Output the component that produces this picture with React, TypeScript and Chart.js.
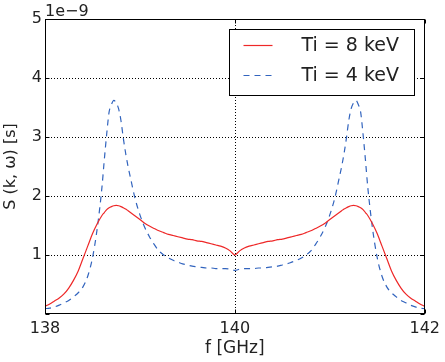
import React, { useEffect, useRef } from "react";
import { Chart, registerables } from "chart.js";

Chart.register(...registerables);

const freqGHz = [
  138.0, 138.05, 138.1, 138.15, 138.2, 138.25, 138.3, 138.35, 138.4, 138.45, 138.5, 138.55, 138.6,
  138.625, 138.65, 138.675, 138.7, 138.725, 138.75, 138.775, 138.8, 138.825, 138.85, 138.875,
  138.9, 138.95, 139.0, 139.05, 139.1, 139.15, 139.2, 139.25, 139.3, 139.35, 139.4, 139.45,
  139.5, 139.55, 139.6, 139.65, 139.7, 139.75, 139.8, 139.85, 139.9, 139.95, 140.0,
  140.05, 140.1, 140.15, 140.2, 140.25, 140.3, 140.35, 140.4, 140.45, 140.5, 140.55,
  140.6, 140.65, 140.7, 140.75, 140.8, 140.85, 140.9, 140.95, 141.0, 141.05, 141.1,
  141.125, 141.15, 141.175, 141.2, 141.225, 141.25, 141.275, 141.3, 141.325, 141.35, 141.375,
  141.4, 141.45, 141.5, 141.55, 141.6, 141.65, 141.7, 141.75, 141.8, 141.85, 141.9, 141.95, 142.0,
];

// S(k, ω) in units of 1e-9 s
const ti8keV = [
  0.13, 0.17, 0.22, 0.27, 0.34, 0.44, 0.57, 0.73, 0.94, 1.15, 1.36, 1.53, 1.67,
  1.72, 1.77, 1.8, 1.82, 1.835, 1.84, 1.835, 1.82, 1.8, 1.78, 1.75,
  1.72, 1.66, 1.6, 1.54, 1.49, 1.45, 1.41, 1.38, 1.35, 1.33, 1.31, 1.29,
  1.27, 1.26, 1.24, 1.23, 1.21, 1.19, 1.17, 1.15, 1.12, 1.07, 1.0,
  1.07, 1.12, 1.15, 1.17, 1.19, 1.21, 1.23, 1.24, 1.26, 1.27, 1.29,
  1.31, 1.33, 1.35, 1.38, 1.41, 1.45, 1.49, 1.54, 1.6, 1.66, 1.72,
  1.75, 1.78, 1.8, 1.82, 1.835, 1.84, 1.835, 1.82, 1.8, 1.77, 1.72,
  1.67, 1.53, 1.36, 1.15, 0.94, 0.73, 0.57, 0.44, 0.34, 0.27, 0.22, 0.17, 0.13,
];

const ti4keV = [
  0.09, 0.1, 0.12, 0.15, 0.19, 0.23, 0.29, 0.36, 0.46, 0.64, 0.95, 1.45, 2.15,
  2.62, 3.05, 3.42, 3.55, 3.62, 3.58, 3.48, 3.28, 2.98, 2.72, 2.5,
  2.31, 1.95, 1.68, 1.47, 1.31, 1.18, 1.07, 1.0, 0.95, 0.91, 0.88, 0.85,
  0.83, 0.81, 0.8, 0.79, 0.78, 0.78, 0.77, 0.77, 0.77, 0.76, 0.74,
  0.76, 0.77, 0.77, 0.77, 0.78, 0.78, 0.79, 0.8, 0.81, 0.83, 0.85,
  0.88, 0.91, 0.95, 1.0, 1.07, 1.18, 1.31, 1.47, 1.68, 1.95, 2.31,
  2.5, 2.72, 2.98, 3.28, 3.48, 3.58, 3.62, 3.55, 3.42, 3.05, 2.62,
  2.15, 1.45, 0.95, 0.64, 0.46, 0.36, 0.29, 0.23, 0.19, 0.15, 0.12, 0.1, 0.09,
];

const seriesLabels = ["Ti = 8 keV", "Ti = 4 keV"];
const xTicks = [138, 140, 142];
const yTicks = [0, 1, 2, 3, 4, 5];
const xGridAt = [140];
const yGridAt = [1, 2, 3, 4];
const offsetText = "1e\u22129";

const RED = "rgb(238, 40, 40)";
const BLUE = "rgb(50, 100, 190)";
const FONT = "'DejaVu Sans', sans-serif";

const framePlugin = {
  id: "mplFrame",
  beforeDatasetsDraw(chart: any) {
    const { ctx, chartArea: a, scales } = chart;
    const x = scales.x;
    const y = scales.y;
    ctx.save();
    ctx.strokeStyle = "#000";
    ctx.lineWidth = 1;
    ctx.setLineDash([1, 2]);
    for (const v of xGridAt) {
      const px = Math.round(x.getPixelForValue(v)) + 0.5;
      ctx.beginPath();
      ctx.moveTo(px, a.top);
      ctx.lineTo(px, a.bottom);
      ctx.stroke();
    }
    for (const v of yGridAt) {
      const py = Math.round(y.getPixelForValue(v)) + 0.5;
      ctx.beginPath();
      ctx.moveTo(a.left, py);
      ctx.lineTo(a.right, py);
      ctx.stroke();
    }
    ctx.restore();
  },
  afterDatasetsDraw(chart: any) {
    const { ctx, chartArea: a, scales } = chart;
    const x = scales.x;
    const y = scales.y;
    const L = Math.round(a.left) + 0.5;
    const R = Math.round(a.right) - 0.5;
    const T = Math.round(a.top) + 0.5;
    const B = Math.round(a.bottom) - 0.5;
    ctx.save();
    ctx.setLineDash([]);
    ctx.strokeStyle = "#000";
    ctx.lineWidth = 1;
    ctx.strokeRect(L, T, R - L, B - T);
    const tl = 4;
    ctx.beginPath();
    for (const v of xTicks) {
      const px = Math.round(x.getPixelForValue(v)) + 0.5;
      ctx.moveTo(px, B);
      ctx.lineTo(px, B - tl);
      ctx.moveTo(px, T);
      ctx.lineTo(px, T + tl);
    }
    for (const v of yTicks) {
      const py = Math.round(y.getPixelForValue(v)) + 0.5;
      ctx.moveTo(L, py);
      ctx.lineTo(L + tl, py);
      ctx.moveTo(R, py);
      ctx.lineTo(R - tl, py);
    }
    ctx.stroke();

    // offset text
    ctx.fillStyle = "#222";
    ctx.font = `16px ${FONT}`;
    ctx.textAlign = "left";
    ctx.textBaseline = "alphabetic";
    ctx.fillText(offsetText, a.left, a.top - 3);

    // legend
    const lw = 185;
    const lh = 66;
    const lx = Math.round(a.right - 196) + 0.5;
    const ly = Math.round(a.top + 10) + 0.5;
    ctx.fillStyle = "#fff";
    ctx.fillRect(lx, ly, lw, lh);
    ctx.strokeStyle = "#000";
    ctx.lineWidth = 1;
    ctx.strokeRect(lx, ly, lw, lh);
    const rows = [
      { c: RED, dash: [] as number[], w: 1.2 },
      { c: BLUE, dash: [6, 5], w: 1.2 },
    ];
    rows.forEach((r, i) => {
      const ry = ly + 16 + i * 30;
      ctx.strokeStyle = r.c;
      ctx.lineWidth = r.w;
      ctx.setLineDash(r.dash);
      ctx.beginPath();
      ctx.moveTo(lx + 14, ry);
      ctx.lineTo(lx + 43, ry);
      ctx.stroke();
      ctx.setLineDash([]);
      ctx.fillStyle = "#222";
      ctx.font = `19px ${FONT}`;
      ctx.textAlign = "left";
      ctx.textBaseline = "middle";
      ctx.fillText(seriesLabels[i], lx + 72, ry + 1);
    });
    ctx.restore();
  },
};

export default function App() {
  const ref = useRef<HTMLCanvasElement | null>(null);
  useEffect(() => {
    if (!ref.current) return;
    const chart = new Chart(ref.current, {
      type: "line",
      data: {
        datasets: [
          {
            label: seriesLabels[0],
            data: freqGHz.map((f, i) => ({ x: f, y: ti8keV[i] })),
            borderColor: RED,
            borderWidth: 1.2,
            pointRadius: 0,
            fill: false,
            cubicInterpolationMode: "monotone",
          },
          {
            label: seriesLabels[1],
            data: freqGHz.map((f, i) => ({ x: f, y: ti4keV[i] })),
            borderColor: BLUE,
            borderWidth: 1.2,
            borderDash: [6, 5],
            pointRadius: 0,
            fill: false,
            cubicInterpolationMode: "monotone",
          },
        ],
      },
      options: {
        animation: false,
        responsive: true,
        maintainAspectRatio: false,
        layout: { padding: { top: 19, right: 18, left: 0, bottom: 0 } },
        plugins: {
          legend: { display: false },
          tooltip: { enabled: false },
        },
        scales: {
          x: {
            type: "linear",
            min: 138,
            max: 142,
            grid: { display: false, drawTicks: false },
            border: { display: false },
            ticks: {
              stepSize: 2,
              padding: 5,
              color: "#222",
              font: { family: FONT, size: 16 },
              maxRotation: 0,
            },
            title: {
              display: true,
              text: "f [GHz]",
              color: "#222",
              font: { family: FONT, size: 17 },
              padding: { top: 0, bottom: 3 },
            },
            afterFit: (s: any) => {
              s.height = 48;
            },
          },
          y: {
            type: "linear",
            min: 0,
            max: 5,
            grid: { display: false, drawTicks: false },
            border: { display: false },
            ticks: {
              stepSize: 1,
              padding: 3,
              color: "#222",
              font: { family: FONT, size: 16 },
              callback: (v: any) => (v === 0 ? "" : String(v)),
            },
            title: {
              display: true,
              text: "S (k, \u03c9) [s]",
              color: "#222",
              font: { family: FONT, size: 16 },
              padding: { top: 1, bottom: 0 },
            },
            afterFit: (s: any) => {
              s.width = 45;
            },
          },
        },
      },
      plugins: [framePlugin],
    });
    return () => chart.destroy();
  }, []);
  return (
    <div style={{ position: "absolute", left: 0, top: 0, width: 445, height: 362 }}>
      <canvas ref={ref} />
    </div>
  );
}
